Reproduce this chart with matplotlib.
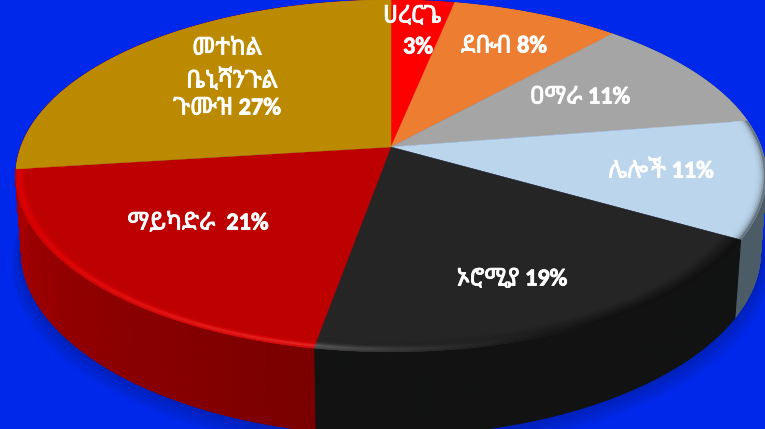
import matplotlib
matplotlib.use("Agg")
import matplotlib.pyplot as plt
import matplotlib.patheffects as pe
from matplotlib.collections import PolyCollection
from matplotlib.colors import to_rgb
import numpy as np

# slice sizes, clockwise from 12 o'clock
slices = [3.2, 8.5, 10.8, 10.8, 19.5, 20.2, 27]
colors = ["#ff0000", "#ed7d31", "#a5a5a5", "#bbd5ec", "#252525", "#bd0000", "#bb8a00"]
wall_colors = ["#aa0000", "#a05020", "#707070", "#4c5c66", "#121212", "#aa0000", "#aa0000"]
labels = ["ሀረርጌ", "3%", "ደቡብ 8%", "ዐማራ 11%", "ሌሎች 11%", "ኦሮሚያ 19%", "ማይካድራ  21%",
          "መተከል", "ቤኒሻንጉል", "ጉሙዝ 27%"]
label_x = [412, 418, 504, 580, 661, 512, 198, 227, 232, 227]
label_y = [16, 47, 46, 97, 171, 279, 223, 48, 80, 108]

cx, cy = 391, 147
A, B, k = 370, 171, 0.165
depth = 77


def rim(t, r=1.0, drop=0.0):
    # perspective projection of a circle, t clockwise from the back of the pie
    X = r * np.sin(t)
    Y = r * np.cos(t)
    w = 1 + k * Y
    return cx + A * X / w, cy - B * Y / w + drop


def wall_drop(t):
    # the wall looks a bit taller at the front
    return depth + 10 * np.clip(-np.cos(t), 0, 1) ** 2


def bevel_colour(n, t, pos, base):
    # pos runs 0..1 across the bevel, outer edge is 1
    deg = np.degrees(t)
    glow = np.exp(-((pos - 0.8) / 0.25) ** 2)
    if n == 3:  # light blue turns grey at the very edge
        return base * (1 - 0.6 * pos ** 5)
    if n == 4:  # black: dark on the right, thin light line at the front
        f = np.clip((deg - 150) / 40, 0, 1)
        return base * (1 - (1 - f) * 0.6 * pos) + f ** 2 * 0.2 * glow
    if n == 5:  # red: bright band, pink line at the front
        front = np.clip(-np.cos(t), 0, 1)
        c = base + np.array([0.11 + 0.05 * front ** 2, 0, 0]) * glow
        c = c + np.array([0, 0.16, 0.16]) * front ** 3 * glow ** 3
        return c
    return base


fig = plt.figure(figsize=(7.65, 4.29), dpi=100, facecolor="#0028eb")
ax = fig.add_axes([0, 0, 1, 1])
ax.set_xlim(0, 765)
ax.set_ylim(429, 0)
ax.axis("off")

edges = np.radians(np.concatenate([[0], np.cumsum(slices)]) * 3.6)

# soft shadow under the pie
tt = np.linspace(np.pi * 0.4, np.pi * 1.6, 200)
for i in range(8):
    sx, sy = rim(tt, 0.985 + 0.004 * i, wall_drop(tt) + 1 + 1.5 * i)
    ax.fill(sx, sy, color="#00155e", alpha=0.05, lw=0, zorder=1)

# side wall and bevel, built from short pieces so the colour can change along the rim
wall_polys, wall_cols = [], []
bevel_polys, bevel_cols = [], []
ring = np.linspace(0.955, 1.0, 10)
for n in range(len(slices)):
    steps = np.linspace(edges[n], edges[n + 1], max(6, int(slices[n] * 8)))
    base = np.array(to_rgb(colors[n]))
    wall = np.array(to_rgb(wall_colors[n]))
    for a, b in zip(steps[:-1], steps[1:]):
        mid = (a + b) / 2
        x1, y1 = rim(a)
        x2, y2 = rim(b)
        x3, y3 = rim(b, 0.985, wall_drop(b))
        x4, y4 = rim(a, 0.985, wall_drop(a))
        wall_polys.append([(x1, y1), (x2, y2), (x3, y3), (x4, y4)])
        # wall gets lighter towards the left side
        shade = 0.68 + 0.32 * np.clip((mid - np.pi) / (np.pi / 2), 0, 1)
        if n < 5:
            shade = 1.0
        c = wall * shade
        wall_cols.append(np.clip(c, 0, 1))
        for r1, r2 in zip(ring[:-1], ring[1:]):
            pos = ((r1 + r2) / 2 - ring[0]) / (ring[-1] - ring[0])
            bx1, by1 = rim(a, r1)
            bx2, by2 = rim(b, r1)
            bx3, by3 = rim(b, r2)
            bx4, by4 = rim(a, r2)
            bevel_polys.append([(bx1, by1), (bx2, by2), (bx3, by3), (bx4, by4)])
            bevel_cols.append(np.clip(bevel_colour(n, mid, pos, base), 0, 1))

ax.add_collection(PolyCollection(wall_polys, facecolors=wall_cols, edgecolors=wall_cols, lw=0.8, zorder=2))

# top face
for n in range(len(slices)):
    t = np.linspace(edges[n], edges[n + 1], 60)
    x, y = rim(t)
    ax.fill(np.r_[cx, x], np.r_[cy, y], color=colors[n], lw=0.3, zorder=3)

ax.add_collection(PolyCollection(bevel_polys, facecolors=bevel_cols, edgecolors=bevel_cols, lw=0.4, zorder=4))

# the Ethiopic font has no bold cut here, a thin stroke thickens it
for i in range(len(labels)):
    txt = ax.text(label_x[i], label_y[i], labels[i], color="white", fontsize=17.5, fontweight="bold",
                  family=["Carlito", "Lato", "Noto Sans Ethiopic"], ha="center", va="center", zorder=5)
    txt.set_path_effects([pe.withStroke(linewidth=0.6, foreground="white")])

fig.savefig("out.png", dpi=100, facecolor=fig.get_facecolor())
